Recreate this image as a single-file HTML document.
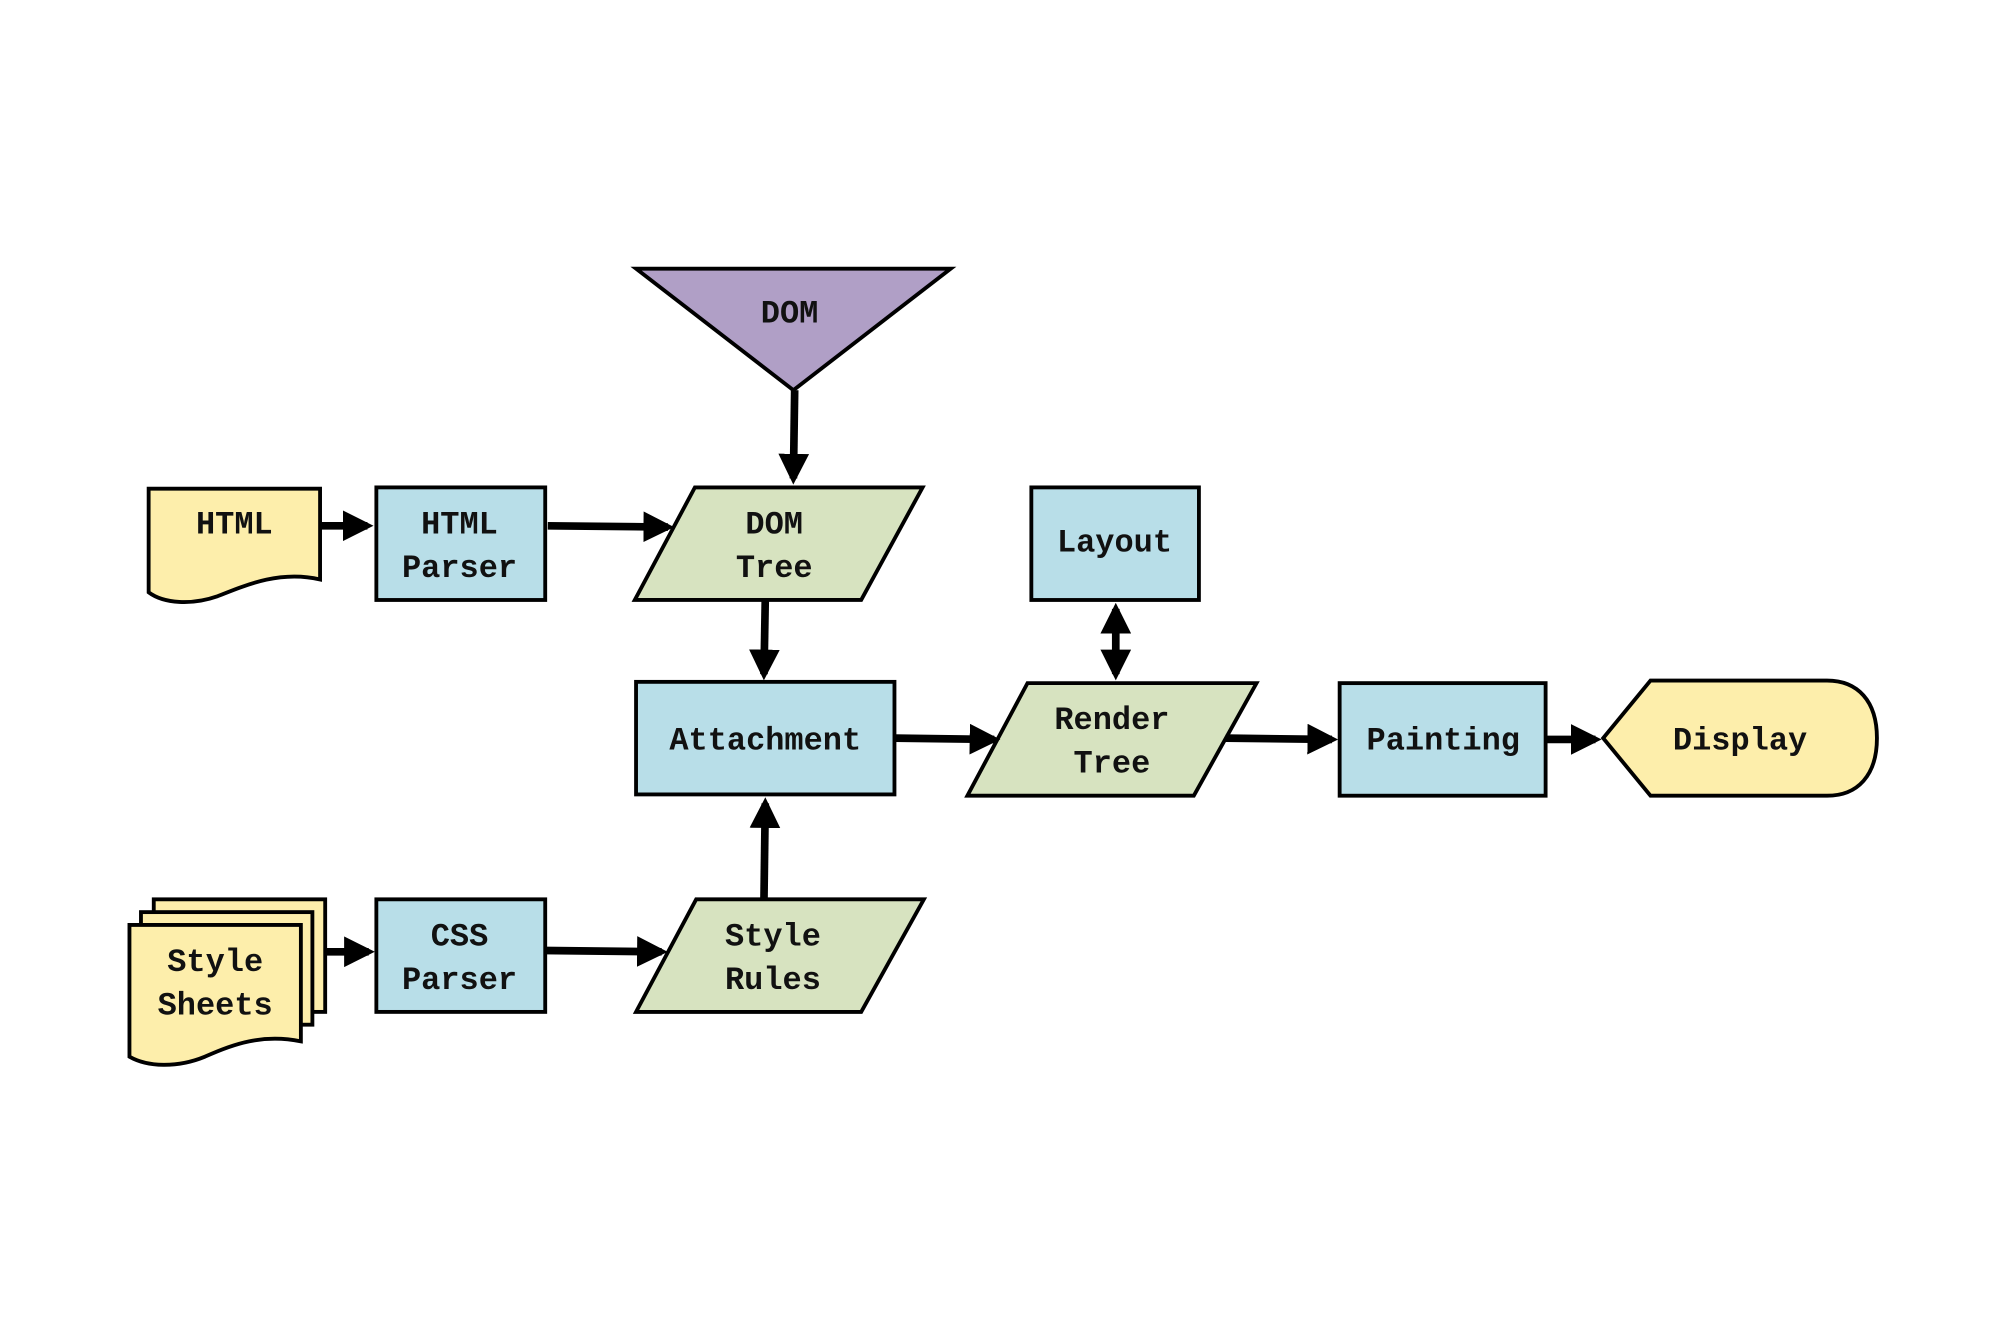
<!DOCTYPE html>
<html><head><meta charset="utf-8"><style>
html,body{margin:0;padding:0;background:#fff;}
svg{display:block}
text{font-family:"Liberation Mono","DejaVu Sans Mono",monospace;font-weight:bold;font-size:25px;fill:#111;text-anchor:middle;}
</style></head><body>
<svg width="2000" height="1333" viewBox="0 0 1563 1042" xmlns="http://www.w3.org/2000/svg">
<defs><marker id="a" markerWidth="4" markerHeight="4" refX="3.2" refY="2" orient="auto" markerUnits="strokeWidth"><path d="M0,0 L4,2 L0,4 z" fill="#000"/></marker>
<marker id="b" markerWidth="4" markerHeight="4" refX="0.8" refY="2" orient="auto" markerUnits="strokeWidth"><path d="M4,0 L0,2 L4,4 z" fill="#000"/></marker></defs>
<g stroke="#000" stroke-width="3">
<!-- DOM triangle -->
<polygon points="497,210 743,210 620,305" fill="#b09fc6"/>
<!-- HTML doc -->
<path d="M116,382 H250 V453 C220,446 195,456 170,466 C150,473 128,472 116,463 Z" fill="#fdeeab"/>
<rect x="294" y="381" width="132" height="88" fill="#b8dee8"/>
<polygon points="543,381 721,381 673,469 496,469" fill="#d7e3c0"/>
<rect x="806" y="381" width="131" height="88" fill="#b8dee8"/>
<rect x="497" y="533" width="202" height="88" fill="#b8dee8"/>
<polygon points="803,534 982,534 933,622 756,622" fill="#d7e3c0"/>
<rect x="1047" y="534" width="161" height="88" fill="#b8dee8"/>
<path d="M1290,532 H1428 C1452,532 1467,548 1467,577 C1467,606 1452,622 1428,622 H1290 L1253,577 Z" fill="#fdeeab"/>
<!-- style sheets -->
<rect x="120" y="703" width="134" height="88" fill="#fdeeab"/>
<rect x="110" y="713" width="134" height="88" fill="#fdeeab"/>
<path d="M101,723 H235 V814 C205,808 182,816 160,826 C138,835 115,834 101,826 Z" fill="#fdeeab"/>
<rect x="294" y="703" width="132" height="88" fill="#b8dee8"/>
<polygon points="544,703 722,703 673,791 497,791" fill="#d7e3c0"/>
</g>
<g stroke="#000" stroke-width="6" fill="none">
<line x1="621" y1="305" x2="620" y2="374" marker-end="url(#a)"/>
<line x1="250" y1="411" x2="287" y2="411" marker-end="url(#a)"/>
<line x1="428" y1="411" x2="522" y2="412" marker-end="url(#a)"/>
<line x1="598" y1="469" x2="597" y2="527" marker-end="url(#a)"/>
<line x1="699" y1="577" x2="777" y2="578" marker-end="url(#a)"/>
<line x1="872" y1="476" x2="872" y2="527" marker-end="url(#a)" marker-start="url(#b)"/>
<line x1="958" y1="577" x2="1041" y2="578" marker-end="url(#a)"/>
<line x1="1208" y1="578" x2="1247" y2="578" marker-end="url(#a)"/>
<line x1="254" y1="744" x2="288" y2="744" marker-end="url(#a)"/>
<line x1="426" y1="743" x2="517" y2="744" marker-end="url(#a)"/>
<line x1="597" y1="703" x2="598" y2="628" marker-end="url(#a)"/>
</g>
<text x="617" y="252">DOM</text>
<text x="183" y="417">HTML</text>
<text x="359" y="417">HTML</text><text x="359" y="451">Parser</text>
<text x="605" y="417">DOM</text><text x="605" y="451">Tree</text>
<text x="871" y="431">Layout</text>
<text x="598" y="586">Attachment</text>
<text x="869" y="570">Render</text><text x="869" y="604">Tree</text>
<text x="1128" y="586">Painting</text>
<text x="1360" y="586">Display</text>
<text x="168" y="759">Style</text><text x="168" y="793">Sheets</text>
<text x="359" y="739">CSS</text><text x="359" y="773">Parser</text>
<text x="604" y="739">Style</text><text x="604" y="773">Rules</text>
</svg>
</body></html>
